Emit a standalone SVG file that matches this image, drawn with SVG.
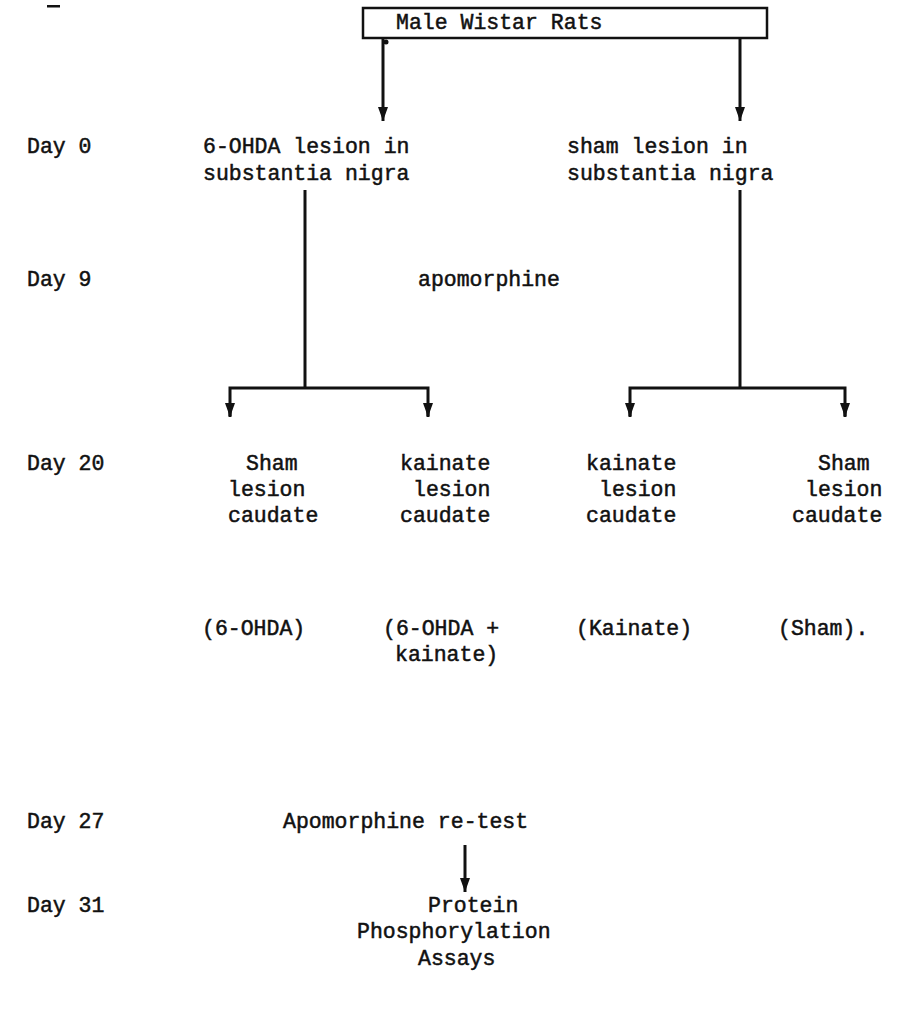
<svg xmlns="http://www.w3.org/2000/svg" width="903" height="1009" viewBox="0 0 903 1009">
<defs>
<style>
text{font-family:"Liberation Mono","Courier New",monospace;font-size:21.5px;fill:#111;stroke:#111;stroke-width:0.5}
.ln{stroke:#111;stroke-width:3;fill:none}
.box{stroke:#111;stroke-width:2.5;fill:#fff}
.mk{fill:#111}
</style>
<marker id="ad" viewBox="0 0 10 14" refX="5" refY="14" markerWidth="10" markerHeight="14" markerUnits="userSpaceOnUse">
<path d="M0,0 L10,0 L5,14 Z" fill="#111"/>
</marker>
</defs>
<rect width="903" height="1009" fill="#fff"/>
<g id="marks">
<rect class="mk" x="47" y="5" width="13" height="2.5"/>
<circle class="mk" cx="386" cy="42" r="2.5"/>
</g>
<g id="days">
<text x="27" y="153">Day 0</text>
<text x="27" y="286">Day 9</text>
<text x="27" y="470">Day 20</text>
<text x="27" y="828">Day 27</text>
<text x="27" y="912">Day 31</text>
</g>
<g id="n-rats">
<rect class="box" x="363" y="8" width="404" height="30"/>
<text x="396" y="29">Male Wistar Rats</text>
</g>
<g id="n-6ohda">
<text x="203" y="153">6-OHDA lesion in</text>
<text x="203" y="180">substantia nigra</text>
</g>
<g id="n-sham">
<text x="567" y="153">sham lesion in</text>
<text x="567" y="180">substantia nigra</text>
</g>
<g id="n-apo">
<text x="418" y="286">apomorphine</text>
</g>
<g id="n-c1">
<text x="246" y="470">Sham</text>
<text x="228" y="496">lesion</text>
<text x="228" y="522">caudate</text>
</g>
<g id="n-c2">
<text x="400" y="470">kainate</text>
<text x="413" y="496">lesion</text>
<text x="400" y="522">caudate</text>
</g>
<g id="n-c3">
<text x="586" y="470">kainate</text>
<text x="599" y="496">lesion</text>
<text x="586" y="522">caudate</text>
</g>
<g id="n-c4">
<text x="818" y="470">Sham</text>
<text x="805" y="496">lesion</text>
<text x="792" y="522">caudate</text>
</g>
<g id="groups">
<text x="202" y="635">(6-OHDA)</text>
<text x="383" y="635">(6-OHDA +</text>
<text x="395" y="661">kainate)</text>
<text x="576" y="635">(Kainate)</text>
<text x="778" y="635">(Sham).</text>
</g>
<g id="n-retest">
<text x="283" y="828">Apomorphine re-test</text>
</g>
<g id="n-assay">
<text x="428" y="912">Protein</text>
<text x="357" y="938">Phosphorylation</text>
<text x="418" y="965">Assays</text>
</g>
<g id="connectors">
<line class="ln" x1="383" y1="38" x2="383" y2="121" marker-end="url(#ad)"/>
<line class="ln" x1="740" y1="38" x2="740" y2="121" marker-end="url(#ad)"/>
<polyline class="ln" points="305,190 305,388"/>
<polyline class="ln" points="230,416 230,388 428,388 428,416"/>
<line class="ln" x1="230" y1="410" x2="230" y2="417" marker-end="url(#ad)"/>
<line class="ln" x1="428" y1="410" x2="428" y2="417" marker-end="url(#ad)"/>
<polyline class="ln" points="740,190 740,388"/>
<polyline class="ln" points="630,416 630,388 845,388 845,416"/>
<line class="ln" x1="630" y1="410" x2="630" y2="417" marker-end="url(#ad)"/>
<line class="ln" x1="845" y1="410" x2="845" y2="417" marker-end="url(#ad)"/>
<line class="ln" x1="465" y1="845" x2="465" y2="892" marker-end="url(#ad)"/>
</g>
</svg>
